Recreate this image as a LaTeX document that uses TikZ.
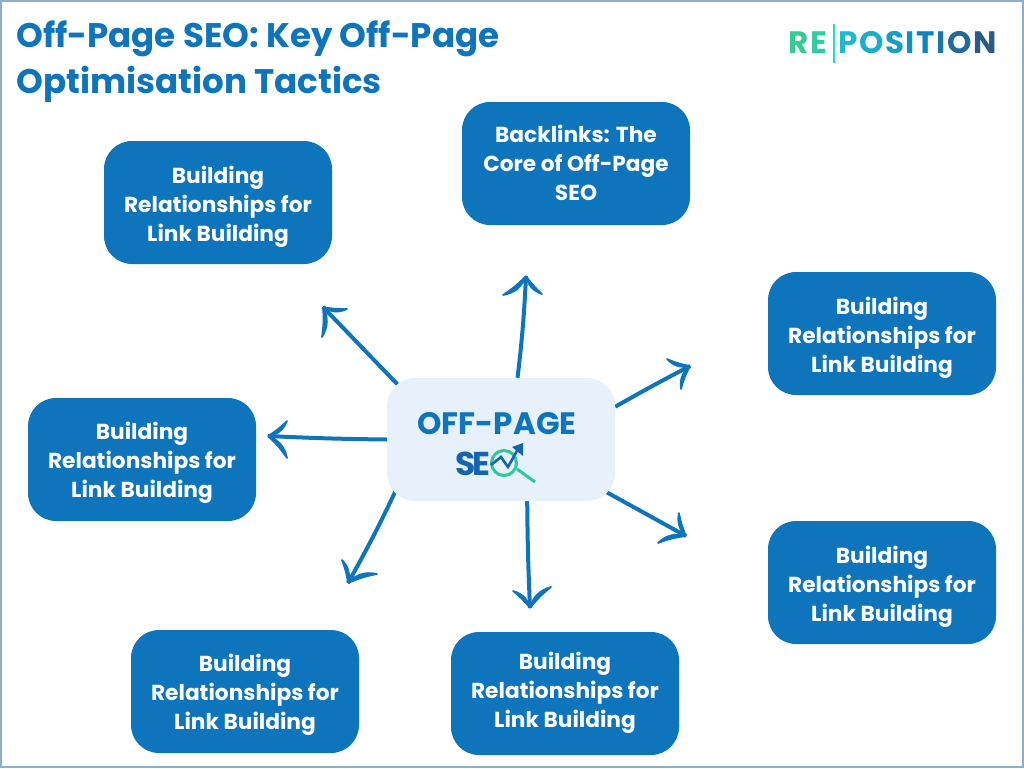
\documentclass[tikz,border=0pt]{standalone}
\usepackage{fontspec}
\setmainfont{Poppins}
\usetikzlibrary{backgrounds}
\definecolor{seoblue}{HTML}{0E75BC}
\definecolor{seopale}{HTML}{E6F1FC}
\definecolor{seogreen}{HTML}{2FC79C}
\definecolor{seonavy}{HTML}{1565AE}
\definecolor{seoframe}{HTML}{8FAFC6}
\tikzset{
  topicbox/.style={fill=seoblue, rounded corners=28pt, minimum width=228pt, minimum height=123pt},
  topictext/.style={text=white, align=center, inner sep=0pt, font=\fontsize{21.7}{29}\selectfont\bfseries,
    execute at begin node=\strut, execute at end node=\strut},
  brandtext/.style={anchor=west, inner sep=0pt, font=\fontsize{31}{31}\selectfont\bfseries},
  shaft/.style={draw=seoblue, line width=4pt},
  barb/.style={fill=seoblue, draw=seoblue, line width=1.7pt, line join=round}
}
% one head: tip, then the barb on each side
\newcommand{\barbs}[3]{
  \filldraw[barb] (#1) to[bend left=30] (#2) to[bend right=6] (#1);
  \filldraw[barb] (#1) to[bend right=30] (#3) to[bend left=6] (#1);
}
\newcommand{\brandletter}[2]{\textcolor[HTML]{#1}{#2}\kern1.6pt}
\begin{document}
\begin{tikzpicture}[x=1pt, y=-1pt]
  \useasboundingbox (0,0) rectangle (1024,768);
  \draw[color=seoframe, line width=1.6pt] (.8,.8) rectangle (1023.2,767.2);

  \node[text=seoblue, align=left, anchor=north west, inner sep=0pt,
        font=\fontsize{34.1}{45.5}\selectfont\bfseries] (title) at (16,21)
        {Off-Page SEO: Key Off-Page\\Optimisation Tactics};
  \node[brandtext] (brandre) at (788.5,43)
        {\brandletter{36CC95}{R}\textcolor[HTML]{32CBA2}{E}};
  \node[brandtext] (brandpos) at (838,43)
        {\brandletter{1FBBCB}{P}\brandletter{1BAECB}{O}\brandletter{159FC6}{S}\brandletter{1191C2}{I}\brandletter{0E83BC}{T}\brandletter{1B76AA}{I}\brandletter{24689A}{O}\textcolor[HTML]{2B5A85}{N}};
  \coordinate (bartop) at (834,24);
  \coordinate (barend) at (834,63);
  \draw[color=seogreen!50!cyan, line width=1.2pt] (bartop) -- (barend);

  \node[topicbox] (links) at (576,163.5) {};
  \node[topictext] (linkstext) at (576,167) {Backlinks: The\\Core of Off-Page\\SEO};
  \foreach \name/\bx/\by/\ty in {upleft/218/202.5/208, upright/882/333.5/339, midleft/142/459.5/464,
      lowright/882/582.5/588, lowleft/245/691.5/696, lowmid/565/693.5/694.5}{
    \node[topicbox] (\name) at (\bx,\by) {};
    \node[topictext] (\name text) at (\bx,\ty) {Building\\Relationships for\\Link Building};
  }

  \node[fill=seopale, rounded corners=28pt, minimum width=228pt, minimum height=123pt] (hub) at (501,439.5) {};
  \node[text=seoblue, inner sep=0pt, font=\fontsize{31}{31}\selectfont\bfseries] (offpage) at (497,424) {OFF-PAGE};
  \node[text=seonavy, anchor=east, inner sep=0pt, font=\fontsize{33}{33}\selectfont\bfseries] (se) at (491,463.5) {S\kern-2.5pt E};

  % magnifier and trend line
  \coordinate (lens) at (504,463);
  \coordinate (grip) at (535,482);
  \draw[seogreen, line width=3pt] (lens) circle [radius=12.5];
  \draw[seogreen, line width=3pt] (517,469) -- (grip);
  \draw[seonavy, line width=2.6pt] (491,465) -- (501,457) -- (508,467) -- (518,449);
  \fill[seonavy] (512,447) -- (523,443) -- (523,456) -- cycle;

  \coordinate (tiptop) at (526,276);
  \coordinate (tipupr) at (690,366);
  \coordinate (tipupl) at (323,307);
  \coordinate (tipmid) at (268,436);
  \coordinate (tiplol) at (348,583);
  \coordinate (tiplom) at (530,608);
  \coordinate (tiplor) at (686,536);

  \begin{scope}[on background layer]
    \draw[shaft] (hub.75) to[bend right=2] (tiptop);
    \draw[shaft] (hub.16) to[bend left=1] (tipupr);
    \draw[shaft] ([xshift=14pt,yshift=-10pt]hub.north west) -- (tipupl);
    \draw[shaft] (hub.180) to[bend left=1] (tipmid);
    \draw[shaft] ([xshift=11pt,yshift=15pt]hub.south west) to[bend left=2] (tiplol);
    \draw[shaft] (hub.-67) to[bend right=1] (tiplom);
    \draw[shaft] ([xshift=-14pt,yshift=12pt]hub.south east) -- (tiplor);
  \end{scope}

  \barbs{tiptop}{503,295}{542,294}
  \barbs{tipupr}{667,359}{681,389}
  \barbs{tipupl}{322,337}{347,309}
  \barbs{tipmid}{287,458}{287,421}
  \barbs{tiplol}{377,574}{342,560}
  \barbs{tiplom}{551,587}{513,591}
  \barbs{tiplor}{679,513}{658,543}
\end{tikzpicture}
\end{document}
